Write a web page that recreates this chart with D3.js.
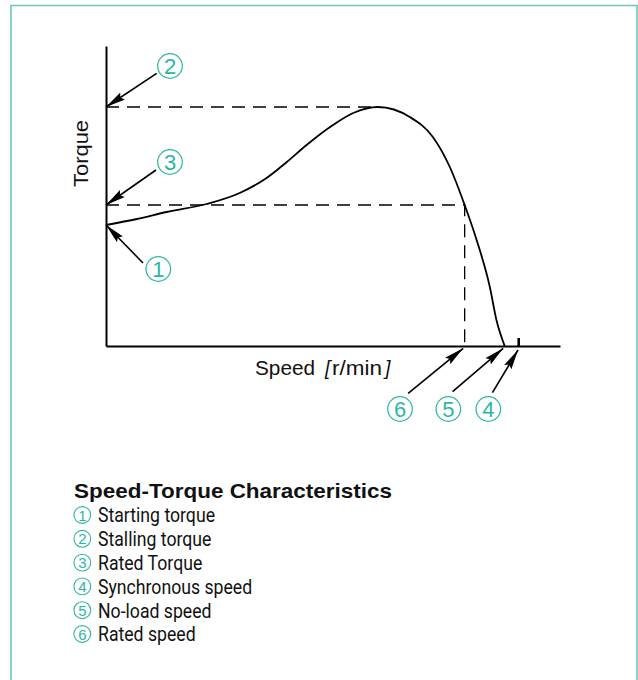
<!DOCTYPE html>
<html>
<head>
<meta charset="utf-8">
<script src="https://cdn.jsdelivr.net/npm/d3@7"></script>
<style>
  html, body { margin: 0; padding: 0; background: #fff; }
  svg { display: block; }
</style>
</head>
<body>
<svg id="chart" width="638" height="680"></svg>
<script>
// Speed–torque curve of an induction motor (speed as % of synchronous speed, torque in relative units)
const speed  = [0, 7.5, 14.7, 24.4, 32.4, 38.9, 43.8, 48.6, 55.0, 59.9, 65.9, 73.6, 79.2, 83.3, 86.9, 89.8, 93.0, 94.6, 96.6];
const torque = [121, 127, 134, 142, 153, 168, 184, 201, 221, 233, 239, 229, 209, 179, 141, 106, 59, 26, 0];

// Characteristic points
const startingTorque = 121;
const stallingTorque = 239;
const stallingSpeed = 65.9;
const ratedTorque = 141;
const ratedSpeed = 86.9;
const noLoadSpeed = 96.6;
const synchronousSpeed = 100;

// Legend entries
const legendNumbers = ["1", "2", "3", "4", "5", "6"];
const legendLabels = ["Starting torque", "Stalling torque", "Rated Torque", "Synchronous speed", "No-load speed", "Rated speed"];

const teal = "#2fb6a1";
const sans = "'Liberation Sans', Arial, sans-serif";
const svg = d3.select("#chart");

// Frame
svg.append("path")
  .attr("d", "M11,680 V5.5 H637 V680")
  .attr("fill", "none").attr("stroke", "#6cc8b8").attr("stroke-width", 1.6);

const x = d3.scaleLinear().domain([0, 110]).range([106, 560]);
const y = d3.scaleLinear().domain([0, 300]).range([346, 46]);

// Arrowhead marker
const defs = svg.append("defs");
defs.append("marker")
  .attr("id", "head")
  .attr("markerUnits", "userSpaceOnUse")
  .attr("viewBox", "0 -5 20 10")
  .attr("refX", 20).attr("refY", 0)
  .attr("markerWidth", 20).attr("markerHeight", 10)
  .attr("orient", "auto")
  .append("path").attr("d", "M0,-4.2 L20,0 L0,4.2 L3,0 Z").attr("fill", "#000");

// Reference dashed lines
const dash = "13,8";
svg.append("line")
  .attr("x1", x(0)).attr("x2", x(stallingSpeed))
  .attr("y1", y(stallingTorque)).attr("y2", y(stallingTorque))
  .attr("stroke", "#000").attr("stroke-width", 1.3).attr("stroke-dasharray", dash);
svg.append("path")
  .attr("d", `M${x(0)},${y(ratedTorque)} H${x(ratedSpeed)} V${y(0)}`)
  .attr("fill", "none")
  .attr("stroke", "#000").attr("stroke-width", 1.3).attr("stroke-dasharray", dash);

// Curve
const line = d3.line()
  .x((d, i) => x(speed[i]))
  .y((d, i) => y(torque[i]))
  .curve(d3.curveMonotoneX);
svg.append("path")
  .attr("d", line(speed))
  .attr("fill", "none").attr("stroke", "#000").attr("stroke-width", 1.8);

// Axes (plain lines, no ticks)
const yAxis = svg.append("g").attr("transform", `translate(${x(0)},0)`)
  .call(d3.axisLeft(y).tickValues([]).tickSizeOuter(0));
const xAxis = svg.append("g").attr("transform", `translate(0,${y(0)})`)
  .call(d3.axisBottom(x).tickValues([]).tickSizeOuter(0));
[yAxis, xAxis].forEach(g => g.select(".domain").attr("stroke", "#000").attr("stroke-width", 2));

// Synchronous speed mark
svg.append("line")
  .attr("x1", x(synchronousSpeed)).attr("x2", x(synchronousSpeed))
  .attr("y1", y(0) - 8).attr("y2", y(0))
  .attr("stroke", "#000").attr("stroke-width", 2.6);

// Axis titles
svg.append("text")
  .attr("transform", `translate(88,153.5) rotate(-90)`)
  .attr("text-anchor", "middle")
  .attr("font-family", sans)
  .attr("font-size", 19.5).attr("fill", "#111")
  .attr("textLength", 67).attr("lengthAdjust", "spacingAndGlyphs")
  .text("Torque");

const sx = svg.append("text")
  .attr("y", 375)
  .attr("font-family", sans)
  .attr("font-size", 19.5).attr("fill", "#111");
sx.append("tspan").attr("x", 255).attr("textLength", 60).attr("lengthAdjust", "spacingAndGlyphs").text("Speed");
sx.append("tspan").attr("x", 325).attr("font-style", "italic").attr("font-weight", 300).text("[");
sx.append("tspan").attr("x", 332).attr("textLength", 50).attr("lengthAdjust", "spacingAndGlyphs").text("r/min");
sx.append("tspan").attr("x", 385).attr("font-style", "italic").attr("font-weight", 300).text("]");

// Callouts: number circle + arrow pointing at the characteristic point
const callouts = [
  { n: "2", tip: [x(0), y(stallingTorque)], from: [50.7, -33.7], c: [170, 66] },
  { n: "3", tip: [x(0), y(ratedTorque)], from: [50, -35], c: [170, 162] },
  { n: "1", tip: [x(0), y(startingTorque)], from: [37, 38], c: [158.3, 269] },
  { n: "6", tip: [x(ratedSpeed) - 1.5, y(0) + 2.3], from: [-55, 45], c: [400, 409] },
  { n: "5", tip: [x(noLoadSpeed) - 1.5, y(0) + 2.3], from: [-50.6, 43.4], c: [448.3, 409] },
  { n: "4", tip: [x(synchronousSpeed) - 0.7, y(0) + 4], from: [-25.6, 42.7], c: [488.3, 409] }
];

callouts.forEach(d => {
  svg.append("line")
    .attr("x1", d.tip[0] + d.from[0]).attr("y1", d.tip[1] + d.from[1])
    .attr("x2", d.tip[0]).attr("y2", d.tip[1])
    .attr("stroke", "#000").attr("stroke-width", 1.6)
    .attr("marker-end", "url(#head)");
  svg.append("circle")
    .attr("cx", d.c[0]).attr("cy", d.c[1]).attr("r", 12.3)
    .attr("fill", "#fff").attr("stroke", teal).attr("stroke-width", 1.2);
  svg.append("text")
    .attr("x", d.c[0]).attr("y", d.c[1] + 8)
    .attr("text-anchor", "middle")
    .attr("font-family", sans)
    .attr("font-size", 22).attr("fill", teal)
    .text(d.n);
});

// Legend
svg.append("text")
  .attr("x", 74).attr("y", 498)
  .attr("font-family", sans)
  .attr("font-weight", "bold").attr("font-size", 20.5).attr("fill", "#111")
  .attr("textLength", 318).attr("lengthAdjust", "spacingAndGlyphs")
  .text("Speed-Torque Characteristics");

const rows = svg.append("g").selectAll("g")
  .data(legendLabels)
  .join("g")
  .attr("transform", (d, i) => `translate(0,${515 + i * 23.8})`);

rows.append("circle")
  .attr("cx", 82.3).attr("cy", 0).attr("r", 8.4)
  .attr("fill", "none").attr("stroke", teal).attr("stroke-width", 1.1);
rows.append("text")
  .attr("x", 82.3).attr("y", 5.6)
  .attr("text-anchor", "middle")
  .attr("font-family", sans)
  .attr("font-size", 15).attr("fill", teal)
  .text((d, i) => legendNumbers[i]);
const labels = rows.append("text")
  .attr("x", 98).attr("y", 7.3)
  .attr("font-family", "Roboto, sans-serif")
  .attr("font-size", 19.5).attr("fill", "#111")
  .text(d => d);

// Condensed look: narrow every label by the same factor
const ref = labels.node().getComputedTextLength();
const squeeze = 117 / ref;
labels.each(function () {
  const w = this.getComputedTextLength();
  d3.select(this).attr("textLength", w * squeeze).attr("lengthAdjust", "spacingAndGlyphs");
});
</script>
</body>
</html>
